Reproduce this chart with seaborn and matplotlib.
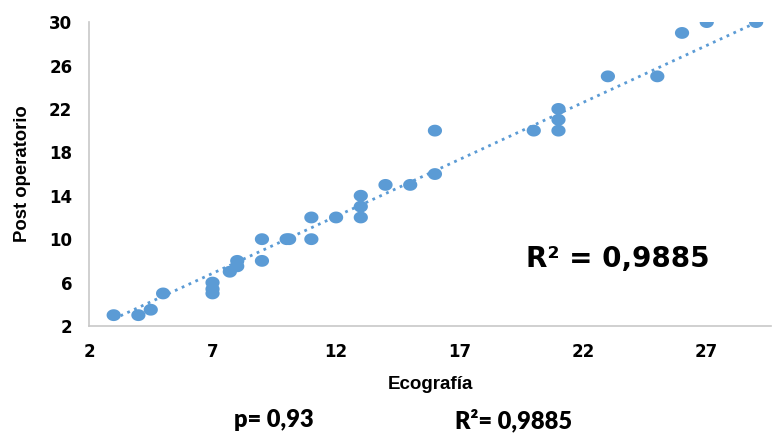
import matplotlib
matplotlib.use("Agg")
import matplotlib.pyplot as plt
import seaborn as sns
import numpy as np
import pandas as pd
from matplotlib.path import Path

# values
ecografia = [3, 4, 4.5, 5, 7, 7, 7, 7.7, 8, 8, 9, 9, 10, 10.1, 11, 11, 12,
             13, 13, 13, 14, 15, 16, 16, 20, 21, 21, 21, 23, 25, 26, 27, 29]
post_op = [3, 3, 3.5, 5, 6, 5.4, 5, 7, 8, 7.5, 10, 8, 10, 10, 12, 10, 12,
           14, 13, 12, 15, 15, 16, 20, 20, 22, 21, 20, 25, 25, 29, 30, 30]
# trend line as drawn in the reference (slope / intercept)
trend_slope = 1.05
trend_intercept = -0.5
x_ticks = [2, 7, 12, 17, 22, 27]
y_ticks = [2, 6, 10, 14, 18, 22, 26, 30]
r2_text = "R² = 0,9885"
p_text = "p= 0,93"
r2_bottom = "R²= 0,9885"

df = pd.DataFrame({"Ecografía": ecografia, "Post operatorio": post_op})
trend = pd.DataFrame({"x": [min(ecografia), max(ecografia)]})
trend["y"] = trend_intercept + trend_slope * trend["x"]

sns.set_style("white")
plt.rcParams["font.family"] = ["Liberation Sans", "DejaVu Sans"]
plt.rcParams["text.color"] = "black"
plt.rcParams["axes.labelcolor"] = "black"
plt.rcParams["xtick.color"] = "black"
plt.rcParams["ytick.color"] = "black"

blue = "#5B9BD5"
# points in the original are a bit wider than tall
t = np.linspace(0, 2 * np.pi, 40)
ellipse = Path(np.column_stack([1.2 * np.cos(t), np.sin(t)]), closed=True)

fig = plt.figure(figsize=(7.73, 4.33), dpi=100)
ax = fig.add_axes([0.1151, 0.2471, 0.9974 - 0.1151, 0.949 - 0.2471])

sns.lineplot(data=trend, x="x", y="y", ax=ax, color=blue, linewidth=2.0,
             linestyle=(0, (1, 1.7)))
sns.scatterplot(data=df, x="Ecografía", y="Post operatorio", ax=ax, color=blue,
                marker=ellipse, s=105, edgecolor="none", zorder=3)

ax.set_xlim(2, 29.6)
ax.set_ylim(2, 30)
ax.set_xticks(x_ticks)
ax.set_yticks(y_ticks)
ax.tick_params(length=0, pad=12)
for lab in ax.get_xticklabels() + ax.get_yticklabels():
    lab.set_fontsize(12)
    lab.set_fontweight("bold")
    lab.set_family(["DejaVu Sans"])

for s in ["top", "right"]:
    ax.spines[s].set_visible(False)
for s in ["left", "bottom"]:
    ax.spines[s].set_color("#C8C8C8")
    ax.spines[s].set_linewidth(1.2)

ax.set_xlabel("Ecografía", fontsize=13.5, fontweight="bold", labelpad=11)
ax.set_ylabel("Post operatorio", fontsize=13.3, fontweight="bold", labelpad=13)

ax.text(0.776, 0.221, r2_text, transform=ax.transAxes, ha="center", va="center",
        fontsize=20, fontweight="bold", family=["DejaVu Sans"])

fig.text(274 / 773, 1 - 420 / 433, p_text, ha="center", va="center",
         fontsize=17, fontweight="heavy", family=["Lato", "DejaVu Sans"])
fig.text(514 / 773, 1 - 420 / 433, r2_bottom, ha="center", va="center",
         fontsize=17, fontweight="heavy", family=["Lato", "DejaVu Sans"])

fig.savefig("out.png", dpi=100)
